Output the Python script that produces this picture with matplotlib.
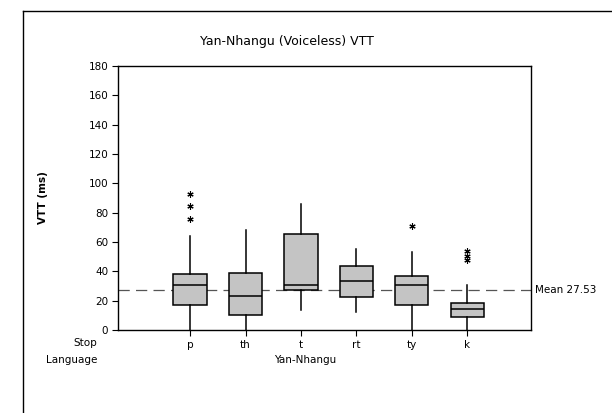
import matplotlib
matplotlib.use("Agg")
import matplotlib.pyplot as plt
from matplotlib.lines import Line2D

plt.rcParams['font.family'] = ['DejaVu Sans']

# values
stops = ['p', 'th', 't', 'rt', 'ty', 'k']
q1 = [17, 10.5, 27, 22.5, 17, 9]
med = [31, 23.5, 31, 33.5, 31, 14]
q3 = [38, 39, 65.5, 43.5, 37, 18.5]
whislo = [0, 0, 13.5, 12, 0, 0]
whishi = [64, 68, 86, 55, 53, 31]
fliers = [[76, 84.5, 92.5], [], [], [], [71], [47.5, 50.5, 54]]
mean_all = 27.53
yticks = [0, 20, 40, 60, 80, 100, 120, 140, 160, 180]

W, H = 612, 413
fig = plt.figure(figsize=(W / 100, H / 100), dpi=100)
fig.patch.set_facecolor('white')

# axes box in pixels: left 118, right 531, top 66, bottom 330
ax = fig.add_axes([118 / W, 1 - 330 / H, (531 - 118) / W, (330 - 66) / H])

stats = []
for i, s in enumerate(stops):
    stats.append(dict(label=s, q1=q1[i], med=med[i], q3=q3[i],
                      whislo=whislo[i], whishi=whishi[i], fliers=fliers[i]))

pos = list(range(1, len(stops) + 1))
ax.axhline(mean_all, color='#555555', lw=0.9, ls=(0, (9, 5)), zorder=1)

ax.bxp(stats, positions=pos, widths=0.6, patch_artist=True, showcaps=False,
       boxprops=dict(facecolor='#c4c4c4', edgecolor='black', lw=1.1),
       medianprops=dict(color='black', lw=1.1),
       whiskerprops=dict(color='black', lw=1.1),
       flierprops=dict(marker=(6, 2, 0), markersize=4.5, markeredgecolor='black',
                       markeredgewidth=0.8, linestyle='none'),
       zorder=3)

ax.set_xlim(-0.3, 7.15)
ax.set_ylim(0, 180)
ax.set_yticks(yticks)
ax.set_xticks(pos)
ax.set_xticklabels(stops)
ax.tick_params(axis='both', labelsize=7.5, length=4, width=0.8, direction='out', pad=3)
for sp in ax.spines.values():
    sp.set_linewidth(1.0)

ax.text(1.01, mean_all, 'Mean 27.53', transform=ax.get_yaxis_transform(),
        fontsize=7.5, va='center', ha='left')

ax.set_ylabel('VTT (ms)', fontsize=7.5, fontweight='bold', labelpad=29)

fig.text(287 / W, 1 - 42 / H, 'Yan-Nhangu (Voiceless) VTT', fontsize=9, ha='center', va='center')
fig.text(97 / W, 1 - 343 / H, 'Stop', fontsize=7.5, ha='right', va='center')
fig.text(97 / W, 1 - 360 / H, 'Language', fontsize=7.5, ha='right', va='center')
fig.text(305 / W, 1 - 360 / H, 'Yan-Nhangu', fontsize=7.5, ha='center', va='center')

# outer graph frame (cut off at right and bottom in the scan)
fig.add_artist(Line2D([23 / W, 23 / W], [0, 1 - 11 / H], color='black', lw=1.0))
fig.add_artist(Line2D([23 / W, 1], [1 - 11 / H, 1 - 11 / H], color='black', lw=1.0))

fig.savefig('out.png', dpi=100)
